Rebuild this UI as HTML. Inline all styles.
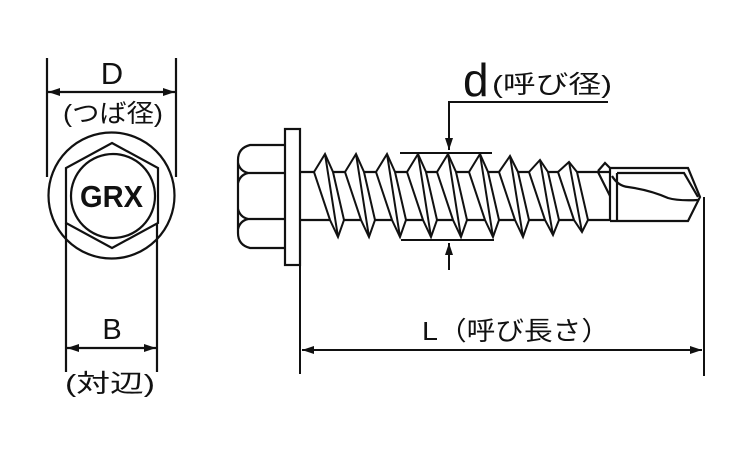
<!DOCTYPE html>
<html><head><meta charset="utf-8"><style>
html,body{margin:0;padding:0;background:#fff;}
svg{display:block;}
text{font-family:"Liberation Sans","Noto Sans CJK JP",sans-serif;fill:#111;}
</style></head><body>
<svg width="750" height="450" viewBox="0 0 750 450" xmlns="http://www.w3.org/2000/svg">
<defs>
<marker id="ar" markerWidth="12" markerHeight="8" refX="12" refY="4" orient="auto" markerUnits="userSpaceOnUse">
<path d="M0,0 L12,4 L0,8 Z" fill="#111"/></marker>
</defs>
<g stroke="#111" stroke-width="2.2" fill="none" stroke-linejoin="miter">
<line x1="47" y1="58" x2="47" y2="177"/>
<line x1="176" y1="58" x2="176" y2="177"/>
<line x1="112" y1="92" x2="48" y2="92" marker-end="url(#ar)"/>
<line x1="112" y1="92" x2="175" y2="92" marker-end="url(#ar)"/>
<circle cx="111.5" cy="195.5" r="63"/>
<polygon points="112,143 158,168 158,223 112,248 66,223 66,168"/>
<circle cx="113" cy="196" r="42"/>
<line x1="66" y1="223" x2="66" y2="372"/>
<line x1="157" y1="223" x2="157" y2="372"/>
<line x1="112" y1="348" x2="67" y2="348" marker-end="url(#ar)"/>
<line x1="112" y1="348" x2="156" y2="348" marker-end="url(#ar)"/>

<path d="M285,145 L250,145 Q238,148 238,160 L238,233 Q238,245 250,248 L285,248"/>
<path d="M238,163 Q240,171 248,173 L285,173"/>
<path d="M238,183 Q240,175 248,173"/>
<path d="M238,209 Q240,217 248,219 L285,219"/>
<path d="M238,229 Q240,221 248,219"/>
<rect x="285" y="129" width="15" height="136"/>
<line x1="300" y1="172" x2="610" y2="172"/>
<line x1="300" y1="220" x2="610" y2="220"/>
<line x1="610" y1="168" x2="610" y2="221"/>
<line x1="617" y1="173" x2="617" y2="221"/>
<path d="M610,168 L688,168 L700,197 L688,221 L610,221"/>
<path d="M617,173 L684,173 L698,197"/>
<path d="M612,176 Q618,186 628,187 Q650,190 668,198 Q678,201 698,200"/>
<path d="M598,171 L605,163 L610,168"/>
<line x1="598" y1="172" x2="610" y2="196"/>
</g>
<g stroke="#111" stroke-width="2" fill="#fff" stroke-linejoin="miter">
<g id="threads"></g>
</g>
<g stroke="#111" stroke-width="2" fill="none">
<line x1="400" y1="153" x2="492" y2="153"/>
<line x1="401" y1="240" x2="494" y2="240"/>
<path d="M608,102 L449,102 L449,150" marker-end="url(#ar)"/>
<line x1="449" y1="270" x2="449" y2="243" marker-end="url(#ar)"/>
<line x1="300" y1="265" x2="300" y2="374"/>
<line x1="704" y1="197" x2="704" y2="376"/>
<line x1="500" y1="350" x2="302" y2="350" marker-end="url(#ar)"/>
<line x1="500" y1="350" x2="702" y2="350" marker-end="url(#ar)"/>
</g>
<text x="112" y="84" font-size="31" text-anchor="middle">D</text>
<text x="63" y="122" font-size="25" textLength="100" lengthAdjust="spacingAndGlyphs">(つば径)</text>
<text x="80" y="207" font-size="31" font-weight="bold" textLength="63" lengthAdjust="spacingAndGlyphs">GRX</text>
<text x="112" y="339" font-size="29" text-anchor="middle">B</text>
<text x="65" y="392" font-size="25" textLength="90" lengthAdjust="spacingAndGlyphs">(対辺)</text>
<text x="463" y="96" font-size="46">d</text>
<text x="492" y="93" font-size="25" textLength="120" lengthAdjust="spacingAndGlyphs">(呼び径)</text>
<text x="422" y="340" font-size="26" textLength="188" lengthAdjust="spacingAndGlyphs">L（呼び長さ）</text>
<script>
var g=document.getElementById('threads');var ns='http://www.w3.org/2000/svg';
var T=[[325,154,237],[356,154,237],[387,154,237],[418,154,237],[448,154,237],[480,154,237],[510,156,237],[540,160,235],[569,162,232]];
T.forEach(function(a){var t=a[0],ty=a[1],by=a[2],b=t+13;
var p=document.createElementNS(ns,'polygon');
p.setAttribute('points',[t-11,172,t,ty,t+8,172,b+6,220,b,by,b-8,220].join(','));g.appendChild(p);
var l=document.createElementNS(ns,'line');l.setAttribute('x1',t);l.setAttribute('y1',ty);l.setAttribute('x2',b);l.setAttribute('y2',by);g.appendChild(l);});
</script>
</svg>
</body></html>
